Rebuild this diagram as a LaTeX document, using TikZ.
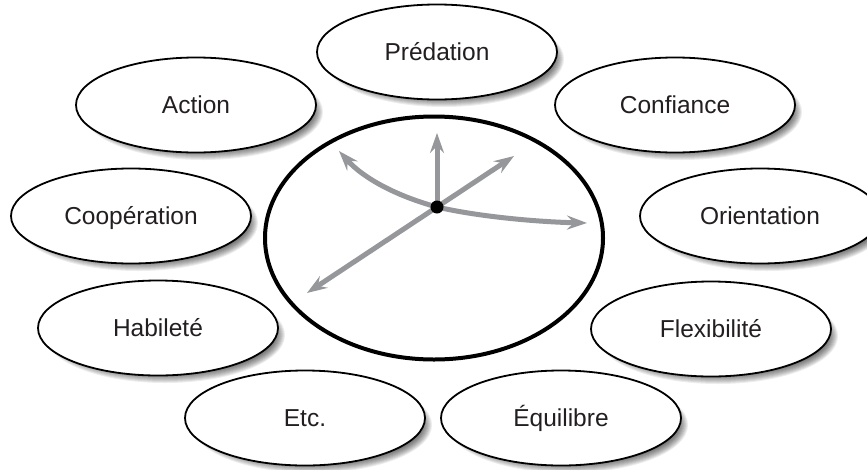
\documentclass[tikz,border=0pt]{standalone}
\usepackage{fontspec}
\setmainfont{Liberation Sans}
\usetikzlibrary{shapes.geometric,arrows.meta}
\definecolor{arrowgray}{RGB}{150,151,154}
\definecolor{txt}{RGB}{35,31,32}
\begin{document}
\begin{tikzpicture}[x=1pt,y=-1pt,
  bubble/.style={ellipse,draw=black,line width=1.8pt,fill=white,
    minimum width=240pt,minimum height=95pt,inner sep=0pt,
    text height=17.5pt,text depth=0pt,
    font=\fontsize{24.5}{28}\selectfont,text=txt},
  core/.style={ellipse,draw=black,line width=4pt,fill=white,
    minimum width=338pt,minimum height=243pt,inner sep=0pt},
  ax/.style={draw=arrowgray,line width=5pt,
    -{Stealth[length=20pt,width=14pt,inset=7pt]}},
  hub/.style={circle,fill=black,minimum size=13pt,inner sep=0pt}]
\useasboundingbox (0,0) rectangle (867,469);
% soft drop shadows
\foreach \cx/\cy in {437/52,196/105,675/105,131/216,760/216,158/328,711/329,305/418,561/418}{
  \foreach \k in {0,...,10}{
    \fill[black,opacity=0.07] (\cx+7,\cy+7) ellipse [x radius=110+\k, y radius=38+\k];
  }
}
% bubbles
\node[bubble] (pred) at (437,52)  {Prédation};
\node[bubble] (act)  at (196,105) {Action};
\node[bubble] (conf) at (675,105) {Confiance};
\node[bubble] (coop) at (131,216) {Coopération};
\node[bubble] (ori)  at (760,216) {Orientation};
\node[bubble] (hab)  at (158,328) {Habileté};
\node[bubble] (flex) at (711,329) {Flexibilité};
\node[bubble] (etc)  at (305,418) {Etc.};
\node[bubble] (equi) at (561,418) {Équilibre};
% central ellipse
\node[core] (center) at (434,238) {};
% arrows
\coordinate (tU)  at (437,133);
\coordinate (tUR) at (514,156);
\coordinate (tL)  at (339,151);
\coordinate (tR)  at (587,223);
\coordinate (tLL) at (307,293);
\coordinate (o) at (437,207);
\draw[ax] (o) -- (tU);
\draw[ax] (o) -- (tUR);
\draw[ax] (o) -- (tLL);
\draw[ax] (o) .. controls (400,197) and (365,180) .. (tL);
\draw[ax] (o) .. controls (480,217) and (540,222) .. (tR);
\node[hub] (dot) at (o) {};
\end{tikzpicture}
\end{document}
